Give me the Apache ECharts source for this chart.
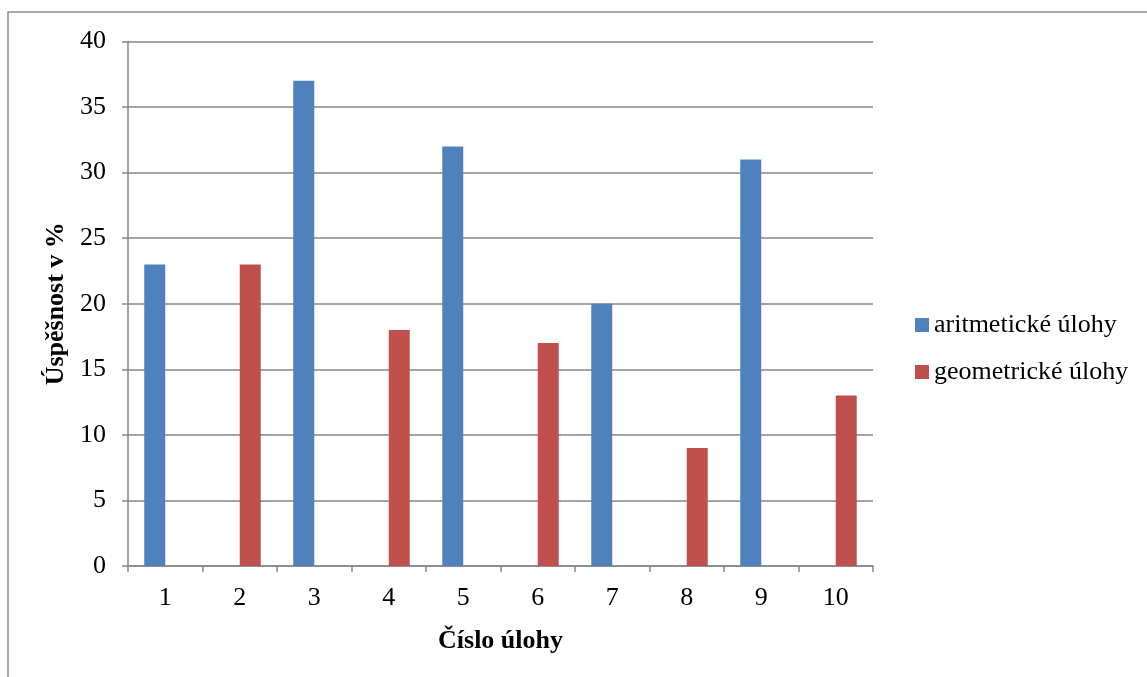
<!DOCTYPE html>
<html><head><meta charset="utf-8">
<script src="https://cdn.jsdelivr.net/npm/echarts@6/dist/echarts.min.js"></script>
<style>html,body{margin:0;padding:0;background:#fff}#c{width:1147px;height:677px}</style>
</head><body><div id="c"></div>
<script>
const categories = ['1','2','3','4','5','6','7','8','9','10'];
const aritmeticke = [23, null, 37, null, 32, null, 20, null, 31, null];
const geometricke = [null, 23, null, 18, null, 17, null, 9, null, 13];
const seriesNames = ['aritmetické úlohy', 'geometrické úlohy'];
const yTicks = {min: 0, max: 40, interval: 5};

const F = 'Liberation Serif';
const FS = 26;
const chart = echarts.init(document.getElementById('c'));
chart.setOption({
  animation: false,
  textStyle: {fontFamily: F},
  graphic: [{type: 'rect', shape: {x: 8, y: 12, width: 1300, height: 800},
    style: {fill: 'none', stroke: '#8c8c8c', lineWidth: 1.5}, silent: true}],
  grid: {left: 128, right: 274, top: 41.5, bottom: 111, containLabel: false},
  legend: {
    orient: 'vertical', left: 915, top: 312, padding: 0, itemWidth: 14, itemHeight: 14, itemGap: 21,
    icon: 'rect',
    textStyle: {fontFamily: F, fontSize: FS, color: '#000', padding: [0, 0, 0, 0]},
    data: seriesNames
  },
  xAxis: {
    type: 'category', data: categories,
    name: 'Číslo úlohy', nameLocation: 'middle', nameGap: 62,
    nameTextStyle: {fontFamily: F, fontSize: FS, fontWeight: 'bold', color: '#000'},
    axisLine: {lineStyle: {color: '#868686', width: 1.5}},
    axisTick: {show: true, interval: 0, length: 6, lineStyle: {color: '#868686', width: 1.5}},
    axisLabel: {fontFamily: F, fontSize: FS, color: '#000', margin: 19}
  },
  yAxis: {
    type: 'value', min: yTicks.min, max: yTicks.max, interval: yTicks.interval,
    name: 'Úspěšnost v %', nameLocation: 'middle', nameGap: 56, nameRotate: 90,
    nameTextStyle: {fontFamily: F, fontSize: FS, fontWeight: 'bold', color: '#000'},
    axisLine: {show: true, lineStyle: {color: '#868686', width: 1.5}},
    axisTick: {show: true, length: 6, lineStyle: {color: '#868686', width: 1.5}},
    splitLine: {lineStyle: {color: '#868686', width: 1.5}},
    axisLabel: {fontFamily: F, fontSize: FS, color: '#000', margin: 22}
  },
  series: [
    {name: seriesNames[0], type: 'bar', data: aritmeticke, barWidth: 21, barGap: '0%',
     itemStyle: {color: '#4F81BD'}},
    {name: seriesNames[1], type: 'bar', data: geometricke, barWidth: 21, barGap: '0%',
     itemStyle: {color: '#C0504D'}}
  ]
});
</script></body></html>
